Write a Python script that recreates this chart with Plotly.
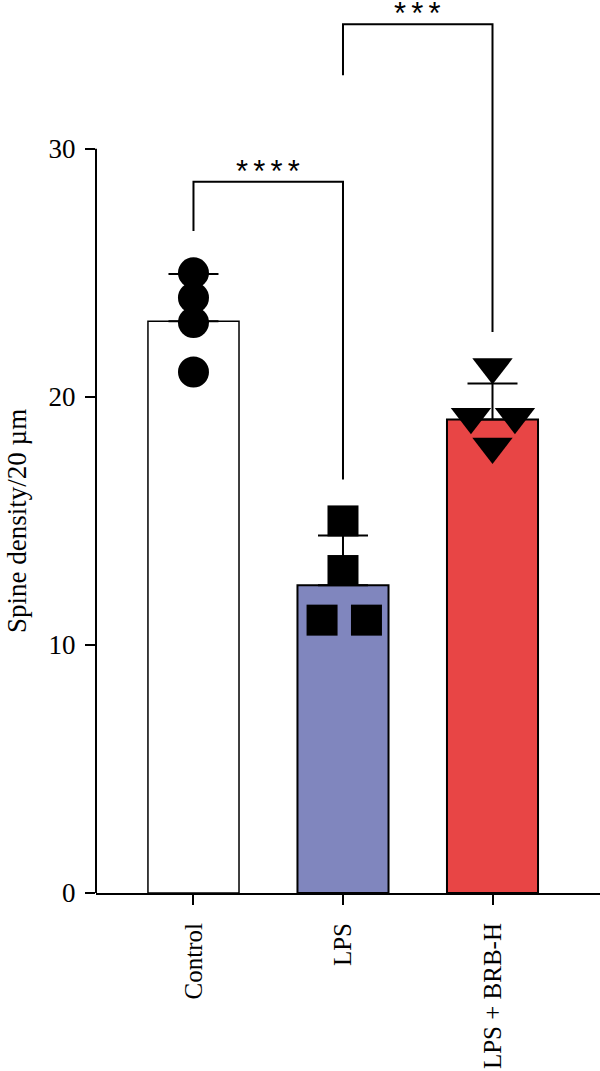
import plotly.graph_objects as go

# ---- data ----
categories = ["Control", "LPS", "LPS + BRB-H"]
means = [23.05, 12.41, 19.09]
sds = [1.9, 2.0, 1.45]
control_pts = [25, 24, 23, 21]
lps_pts = [15, 13, 11, 11]
brb_pts = [21.2, 19.2, 19.2, 18.0]
y_ticks = [0, 10, 20, 30]
y_title = "Spine density/20 µm"
# significance brackets
sig_labels = ["****", "***"]
sig_left = [0, 1]
sig_right = [1, 2]
sig_top = [28.67, 35.02]
sig_left_bottom = [26.69, 32.97]
sig_right_bottom = [16.67, 22.62]

# ---- styling ----
bar_colors = ["#FFFFFF", "#8086BE", "#E84545"]
bar_line_widths = [1.5, 2, 2]
control_offsets = [0, 0, 0, 0]
lps_offsets = [0, 0, -0.14, 0.157]
brb_offsets = [0, -0.144, 0.15, 0]
STAR_GAP = 0.42
FONT = "Liberation Serif"

x_idx = list(range(len(categories)))

fig = go.Figure()
fig.add_trace(go.Bar(
    x=x_idx, y=means, width=0.609,
    marker=dict(color=bar_colors, line=dict(color="#000000", width=bar_line_widths)),
    error_y=dict(type="data", array=sds, arrayminus=[0] * len(sds), symmetric=False,
                 color="#000000", thickness=2, width=25),
    showlegend=False,
))

def pts_trace(i, vals, offs, symbol, size):
    return go.Scatter(
        x=[i + o for o in offs], y=vals, mode="markers",
        marker=dict(symbol=symbol, size=size, color="#000000", line=dict(width=0)),
        showlegend=False, cliponaxis=False,
    )

fig.add_trace(pts_trace(0, control_pts, control_offsets, "circle", 31))
fig.add_trace(pts_trace(1, lps_pts, lps_offsets, "square", 31))
fig.add_trace(pts_trace(2, brb_pts, brb_offsets, "triangle-down", 35))

shapes = []
annotations = []
# y axis line only spanning 0..30
shapes.append(dict(type="line", xref="paper", yref="y", x0=0, x1=0, y0=0, y1=max(y_ticks),
                   line=dict(color="#000000", width=2)))
for lab, l, r, top, lb, rb in zip(sig_labels, sig_left, sig_right, sig_top, sig_left_bottom, sig_right_bottom):
    shapes.append(dict(type="path", xref="x", yref="y",
                       path=f"M {l},{lb} L {l},{top} L {r},{top} L {r},{rb}",
                       line=dict(color="#000000", width=2)))
    annotations.append(dict(x=(l + r) / 2, y=top + STAR_GAP, xref="x", yref="y",
                            text="\u2006".join(lab),
                            showarrow=False, xanchor="center", yanchor="middle",
                            font=dict(family="Liberation Sans", size=31, color="#000000")))

annotations.append(dict(x=-96 / 504, y=15, xref="paper", yref="y", text=y_title, textangle=-90,
                        showarrow=False, xanchor="left", yanchor="middle",
                        font=dict(family=FONT, size=27, color="#000000")))

fig.update_layout(
    width=600, height=1071,
    margin=dict(l=96, r=0, t=0, b=178, pad=0),
    plot_bgcolor="#FFFFFF", paper_bgcolor="#FFFFFF",
    font=dict(family=FONT, size=26, color="#000000"),
    shapes=shapes, annotations=annotations,
    xaxis=dict(range=[-0.652, 2.719], tickvals=x_idx, ticktext=categories, tickangle=-90,
               showline=True, linecolor="#000000", linewidth=2, ticks="outside", ticklen=10,
               tickwidth=2, tickcolor="#000000", showgrid=False, zeroline=False,
               ticklabelstandoff=8, automargin=False,
               tickfont=dict(family=FONT, size=25)),
    yaxis=dict(range=[0, 36], tickvals=y_ticks, showline=False, ticks="outside", ticklen=10,
               tickwidth=2, tickcolor="#000000", showgrid=False, zeroline=False,
               ticklabelstandoff=4, automargin=False,
               tickfont=dict(family=FONT, size=27)),
)

fig.write_html("out.html")
